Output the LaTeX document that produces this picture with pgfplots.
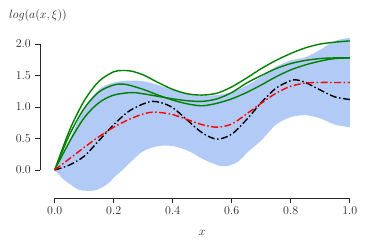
\documentclass[border=0pt]{standalone}
\usepackage{pgfplots}
\pgfplotsset{compat=1.18}
\usepgfplotslibrary{fillbetween}
\definecolor{band}{RGB}{177,202,246}
\definecolor{mgreen}{RGB}{0,128,0}
\definecolor{spine}{RGB}{38,38,38}
\begin{document}
\fontsize{12}{14}\selectfont
\begin{tikzpicture}
\begin{axis}[
  scale only axis,
  width=324.5pt, height=163.4pt,
  xmin=-0.05, xmax=1.05, ymin=-0.444, ymax=2.15,
  clip=false,
  axis x line*=bottom, axis y line*=left,
  axis line style={draw=none},
  tick align=outside,
  major tick length=5pt,
  tick style={spine, line width=1pt},
  xtick={0,0.2,0.4,0.6,0.8,1.0},
  ytick={0,0.5,1.0,1.5,2.0},
  xticklabel style={/pgf/number format/.cd, fixed, fixed zerofill, precision=1},
  yticklabel style={/pgf/number format/.cd, fixed, fixed zerofill, precision=1},
  tick label style={font=\fontsize{12}{14}\selectfont, text=spine},
  xlabel={$x$},
  every axis x label/.style={at={(axis cs:0.5,-0.444)}, anchor=north, yshift=-28pt},
  ylabel={$log(a(x,\xi))$},
  every axis y label/.style={at={(axis description cs:-0.108,1.114)}, anchor=west},
  label style={font=\fontsize{12}{14}\selectfont, text=spine},
]
\draw[spine, line width=1pt] (axis cs:-0.05,0) -- (axis cs:-0.05,2);
\draw[spine, line width=1pt] (axis cs:0,-0.444) -- (axis cs:1,-0.444);

\addplot[name path=U, draw=none, smooth, forget plot] coordinates {
(0,0) (0.05,0.48) (0.1,0.98) (0.15,1.28) (0.2,1.39) (0.25,1.42) (0.3,1.41) (0.35,1.35)
(0.4,1.27) (0.45,1.21) (0.5,1.18) (0.55,1.19) (0.6,1.24) (0.65,1.34) (0.7,1.48)
(0.75,1.64) (0.8,1.74) (0.85,1.79) (0.9,1.91) (0.95,2.05) (1.0,2.10)};
\addplot[name path=L, draw=none, smooth, forget plot] coordinates {
(0,0) (0.03,-0.15) (0.05,-0.22) (0.08,-0.31) (0.11,-0.33) (0.14,-0.32) (0.18,-0.22)
(0.2,-0.12) (0.23,0.0) (0.26,0.14) (0.3,0.30) (0.35,0.38) (0.4,0.38) (0.45,0.31)
(0.5,0.18) (0.55,0.08) (0.58,0.06) (0.62,0.13) (0.66,0.31) (0.7,0.47) (0.75,0.72)
(0.8,0.84) (0.85,0.87) (0.9,0.82) (0.95,0.72) (1.0,0.68)};
\addplot[band, draw=none, forget plot] fill between[of=U and L];

\addplot[mgreen, line width=1.4pt, smooth] coordinates {
(0,0) (0.05,0.63) (0.1,1.10) (0.15,1.41) (0.2,1.56) (0.23,1.58) (0.26,1.57) (0.3,1.51)
(0.35,1.39) (0.4,1.28) (0.45,1.21) (0.5,1.19) (0.55,1.22) (0.6,1.32) (0.65,1.46)
(0.7,1.61) (0.75,1.74) (0.8,1.85) (0.85,1.94) (0.9,2.00) (0.95,2.03) (1.0,2.05)};
\addplot[mgreen, line width=1.4pt, smooth] coordinates {
(0,0) (0.05,0.56) (0.1,0.98) (0.15,1.24) (0.2,1.35) (0.24,1.36) (0.3,1.28)
(0.35,1.19) (0.4,1.11) (0.45,1.05) (0.5,1.02) (0.55,1.06) (0.6,1.13) (0.65,1.23)
(0.7,1.35) (0.75,1.48) (0.8,1.59) (0.85,1.67) (0.9,1.73) (0.95,1.77) (1.0,1.78)};
\addplot[mgreen, line width=1.4pt, smooth] coordinates {
(0,0) (0.05,0.45) (0.1,0.83) (0.15,1.07) (0.2,1.19) (0.26,1.23) (0.3,1.21)
(0.35,1.17) (0.4,1.13) (0.45,1.10) (0.5,1.09) (0.55,1.13) (0.6,1.23) (0.65,1.38)
(0.7,1.50) (0.75,1.61) (0.8,1.69) (0.85,1.74) (0.9,1.77) (0.95,1.78) (1.0,1.78)};

\addplot[black, line width=1.4pt, smooth, dash pattern=on 7pt off 2.5pt on 1.5pt off 2.5pt] coordinates {
(0,0) (0.05,0.08) (0.1,0.22) (0.15,0.47) (0.2,0.72) (0.25,0.93) (0.3,1.05) (0.33,1.09)
(0.36,1.07) (0.4,0.99) (0.45,0.79) (0.5,0.59) (0.55,0.49) (0.6,0.57) (0.65,0.80)
(0.7,1.07) (0.75,1.30) (0.8,1.42) (0.82,1.43) (0.85,1.39) (0.9,1.27) (0.95,1.16) (1.0,1.12)};
\addplot[red, line width=1.4pt, smooth, dash pattern=on 7pt off 2.5pt on 1.5pt off 2.5pt] coordinates {
(0,0) (0.05,0.18) (0.1,0.36) (0.15,0.53) (0.2,0.68) (0.25,0.80) (0.3,0.89) (0.34,0.92)
(0.4,0.88) (0.45,0.80) (0.5,0.72) (0.55,0.68) (0.6,0.73) (0.65,0.89) (0.7,1.06)
(0.75,1.22) (0.8,1.33) (0.85,1.38) (0.9,1.39) (0.95,1.39) (1.0,1.39)};
\end{axis}
\pgfresetboundingbox
\path[use as bounding box] (-40pt,-48pt) rectangle (334pt,198pt);
\end{tikzpicture}
\end{document}
